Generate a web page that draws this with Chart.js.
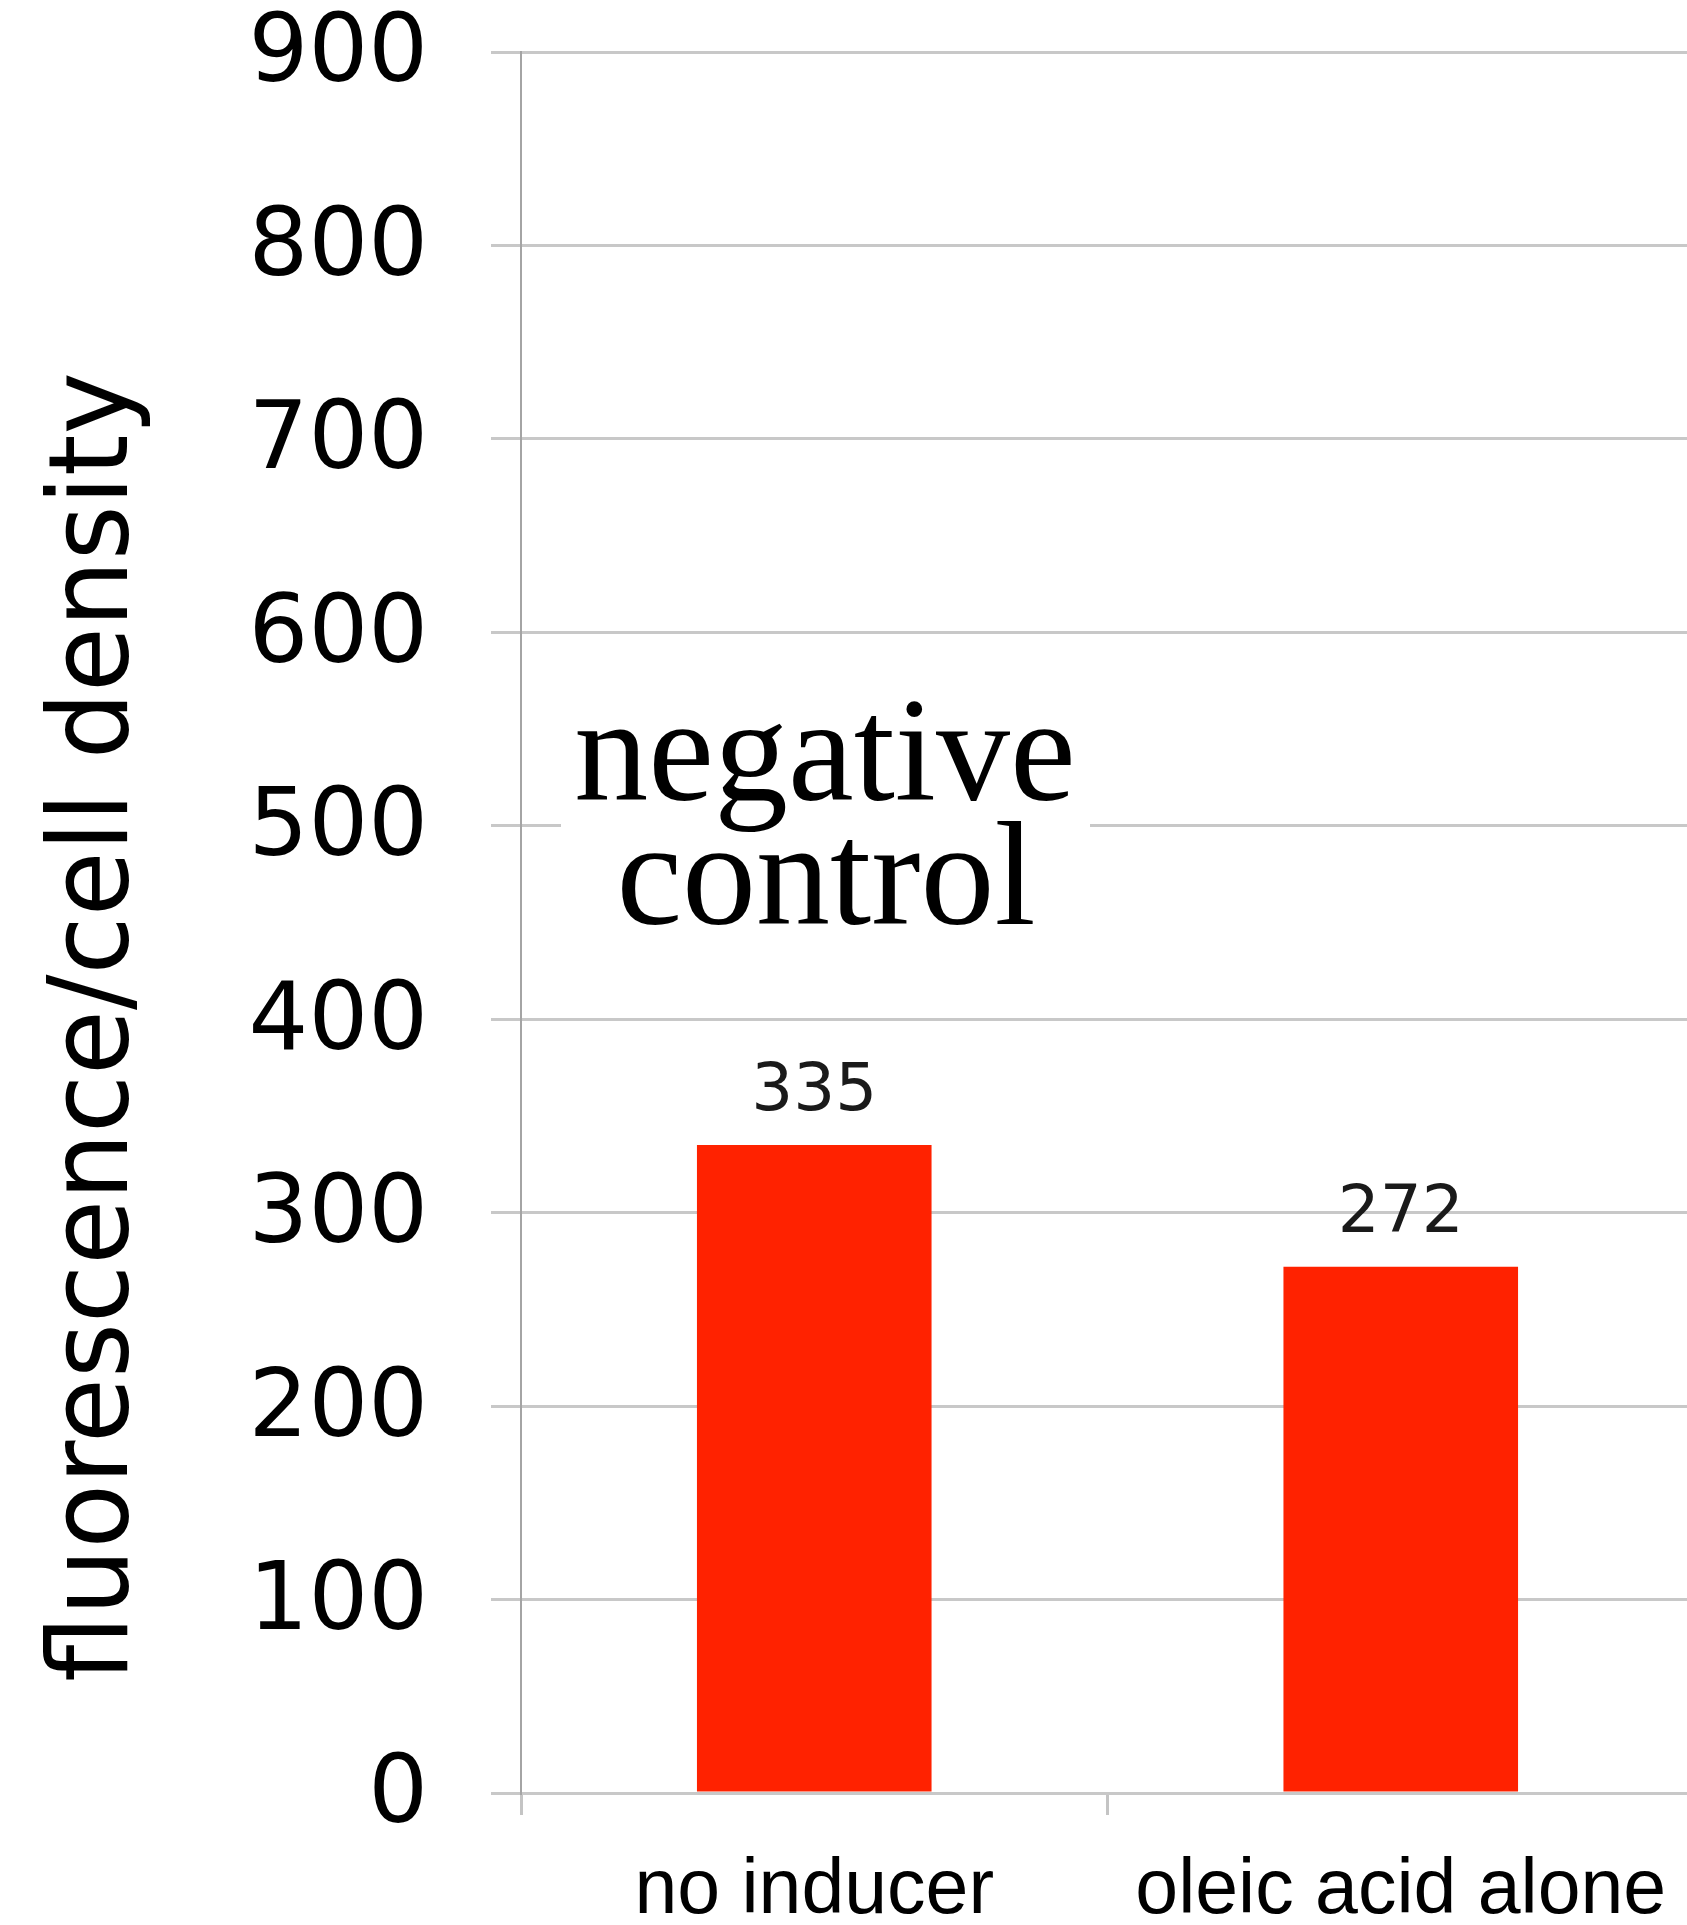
<!DOCTYPE html>
<html>
<head>
<meta charset="utf-8">
<script src="https://cdn.jsdelivr.net/npm/chart.js@4/dist/chart.umd.min.js"></script>
<style>
  html, body { margin: 0; padding: 0; background: #fff; overflow: hidden; }
  canvas { display: block; }
</style>
</head>
<body>
<canvas id="myChart" width="1694" height="1925"></canvas>
<script>
// chart data
const categories = ['no inducer', 'oleic acid alone'];
const values = [335, 272];
const yMin = 0;
const yMax = 900;
const yStep = 100;
const yTitle = 'fluorescence/cell density';
const noteLines = ['negative', 'control'];

// value labels above bars
const valueLabels = {
    id: 'valueLabels',
    afterDatasetsDraw(chart) {
        const ctx = chart.ctx;
        const meta = chart.getDatasetMeta(0);
        ctx.save();
        ctx.font = '66px "DejaVu Sans"';
        ctx.fillStyle = '#1a1a1a';
        ctx.textAlign = 'center';
        ctx.textBaseline = 'alphabetic';
        meta.data.forEach((bar, i) => {
            ctx.fillText(String(values[i]), bar.x, bar.y - 35);
        });
        ctx.restore();
    }
};

// "negative control" note on a white box
const note = {
    id: 'note',
    afterDatasetsDraw(chart) {
        const ctx = chart.ctx;
        ctx.save();
        ctx.fillStyle = '#fff';
        ctx.fillRect(561, 690, 529, 260);
        ctx.font = '148px "Liberation Serif"';
        ctx.fillStyle = '#000';
        ctx.textAlign = 'center';
        ctx.textBaseline = 'alphabetic';
        ctx.fillText(noteLines[0], 825, 800);
        ctx.fillText(noteLines[1], 826, 924);
        ctx.restore();
    }
};

// rotated y axis title
const yAxisTitle = {
    id: 'yAxisTitle',
    afterDraw(chart) {
        const ctx = chart.ctx;
        ctx.save();
        ctx.translate(127, 1027);
        ctx.rotate(-Math.PI / 2);
        ctx.font = '110px "DejaVu Sans"';
        ctx.fillStyle = '#000';
        ctx.textAlign = 'center';
        ctx.textBaseline = 'alphabetic';
        ctx.fillText(yTitle, 0, 0, 1310);
        ctx.restore();
    }
};

function initChart() {
    const ctx = document.getElementById('myChart').getContext('2d');
    return new Chart(ctx, {
        type: 'bar',
        data: {
            labels: categories,
            datasets: [{
                data: values,
                backgroundColor: '#ff2200',
                borderWidth: 0,
                categoryPercentage: 1,
                barPercentage: 0.4
            }]
        },
        options: {
            responsive: false,
            animation: false,
            layout: { padding: { top: 52, right: 0, bottom: 0, left: 0 } },
            plugins: {
                legend: { display: false },
                tooltip: { enabled: false }
            },
            scales: {
                x: {
                    afterFit(scale) {
                        scale.height = 132;
                        scale.paddingLeft = 0;
                        scale.paddingRight = 0;
                    },
                    grid: {
                        drawOnChartArea: false,
                        drawTicks: true,
                        tickLength: 22,
                        color: '#c4c4c4',
                        lineWidth: 3
                    },
                    border: { display: false },
                    ticks: {
                        color: '#000',
                        padding: 38,
                        font: { family: '"Liberation Sans"', size: 77, lineHeight: 1 }
                    }
                },
                y: {
                    min: yMin,
                    max: yMax,
                    afterFit(scale) {
                        scale.width = 521;
                        scale.paddingTop = 0;
                        scale.paddingBottom = 0;
                    },
                    grid: {
                        color: '#c8c8c8',
                        lineWidth: 3,
                        tickLength: 30
                    },
                    border: { display: true, color: '#a4a4a4', width: 2 },
                    ticks: {
                        stepSize: yStep,
                        color: '#000',
                        padding: 63,
                        labelOffset: 5,
                        font: { family: '"DejaVu Sans"', size: 94, lineHeight: 1 }
                    }
                }
            }
        },
        plugins: [valueLabels, note, yAxisTitle]
    });
}

const chart = initChart();
</script>
</body>
</html>
